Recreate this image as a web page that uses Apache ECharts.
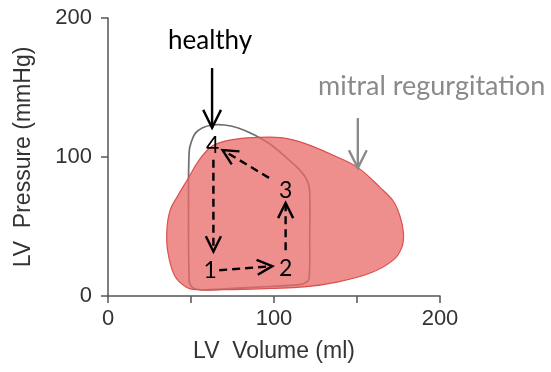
<!DOCTYPE html>
<html>
<head>
<meta charset="utf-8">
<script src="https://cdn.jsdelivr.net/npm/echarts@6/dist/echarts.min.js"></script>
<style>
  html, body { margin: 0; padding: 0; background: #fff; }
  #chart { width: 551px; height: 372px; }
</style>
</head>
<body>
<div id="chart"></div>
<script>
// Pressure-volume loops: healthy vs mitral regurgitation

// healthy loop outline (volume ml, pressure mmHg)
const healthyVol  = [49, 48.5, 49, 52, 57, 63, 70, 78, 88, 98, 108, 116, 120, 121.5, 121.5, 121, 117, 100, 75, 56, 51];
const healthyPres = [10, 60, 105, 116, 121, 123, 123, 121, 116, 109, 99, 90, 83, 75, 40, 12, 8.5, 7, 5.5, 4.5, 6];

// mitral regurgitation loop outline
const mrVol  = [47, 40, 36, 35.5, 37.5, 42, 48, 55, 63, 75, 88, 104, 118, 138, 151, 164, 172, 176, 178, 177, 172, 158, 138, 118, 98, 70, 53];
const mrPres = [6.5, 15, 32, 48, 62, 72, 84, 98, 108, 112.5, 114, 114, 110, 100, 92, 78, 68, 57, 45, 35, 26, 16.5, 10, 6.5, 5.5, 4.5, 4.5];

// cycle arrows 4->1, 1->2, 2->3, 3->4 (start / end)
const arrowFromVol  = [63.5, 67, 107, 97];
const arrowFromPres = [98, 18.5, 33, 85];
const arrowToVol    = [63.5, 99, 107, 69];
const arrowToPres   = [32, 21.5, 67, 105];

// phase numbers
const phaseLabels = ['1', '2', '3', '4'];
const phaseVol    = [61.5, 107, 107, 63];
const phasePres   = [18.5, 20, 76, 108];

// annotations
const annoText   = ['healthy', 'mitral regurgitation'];
const annoColor  = ['#000000', '#8a8a8a'];
const annoSize   = [26, 27];
const annoVol    = [61.5, 195];
const annoPres   = [184, 151];
const annoArrowVol      = [62.7, 150.5];
const annoArrowFromPres = [164, 128];
const annoArrowToPres   = [121, 92];

const chart = echarts.init(document.getElementById('chart'));

function arrowGroup(p0, p1, dashed, color, width, headLen) {
  const ang = Math.atan2(p1[1] - p0[1], p1[0] - p0[0]);
  const h = 0.46;
  const a1 = [p1[0] - headLen * Math.cos(ang - h), p1[1] - headLen * Math.sin(ang - h)];
  const a2 = [p1[0] - headLen * Math.cos(ang + h), p1[1] - headLen * Math.sin(ang + h)];
  return {
    type: 'group',
    children: [
      {
        type: 'line',
        shape: { x1: p0[0], y1: p0[1], x2: p1[0], y2: p1[1] },
        style: { stroke: color, lineWidth: width, lineDash: dashed ? [8, 5] : null }
      },
      {
        type: 'polyline',
        shape: { points: [a1, p1, a2] },
        style: { stroke: color, lineWidth: width, fill: null }
      }
    ]
  };
}

const option = {
  animation: false,
  grid: { left: 108, right: 111, top: 18, bottom: 76 },
  xAxis: {
    type: 'value',
    min: 0, max: 200, interval: 50,
    name: 'LV  Volume (ml)',
    nameLocation: 'middle',
    nameGap: 44,
    nameTextStyle: { fontFamily: 'Liberation Sans', fontSize: 23, color: '#333' },
    splitLine: { show: false },
    axisLine: { lineStyle: { color: '#555', width: 1.5 } },
    axisTick: { length: 7, lineStyle: { color: '#555', width: 1.5 } },
    axisLabel: {
      margin: 12,
      fontFamily: 'Liberation Sans', fontSize: 22, color: '#333',
      formatter: v => (v % 100 === 0 ? String(v) : '')
    }
  },
  yAxis: {
    type: 'value',
    min: 0, max: 200, interval: 100,
    name: 'LV  Pressure (mmHg)',
    nameLocation: 'middle',
    nameGap: 73,
    nameTextStyle: { fontFamily: 'Liberation Sans', fontSize: 23, color: '#333' },
    splitLine: { show: false },
    axisLine: { show: true, lineStyle: { color: '#555', width: 1.5 } },
    axisTick: { show: true, length: 7, lineStyle: { color: '#555', width: 1.5 } },
    axisLabel: { margin: 16, fontFamily: 'Liberation Sans', fontSize: 22, color: '#333' }
  },
  series: [
    {
      name: 'healthy',
      type: 'custom',
      z: 2,
      data: [[0, 0]],
      renderItem: function (params, api) {
        const pts = healthyVol.map((v, i) => api.coord([v, healthyPres[i]]));
        return {
          type: 'polygon',
          shape: { points: pts, smooth: 0.25 },
          style: { fill: null, stroke: '#6e6e6e', lineWidth: 1.7 }
        };
      }
    },
    {
      name: 'mitral regurgitation',
      type: 'custom',
      z: 3,
      data: [[0, 0]],
      renderItem: function (params, api) {
        const pts = mrVol.map((v, i) => api.coord([v, mrPres[i]]));
        return {
          type: 'polygon',
          shape: { points: pts, smooth: 0.35 },
          style: { fill: 'rgba(234, 108, 105, 0.76)', stroke: '#d9504f', lineWidth: 1.2 }
        };
      }
    },
    {
      name: 'cycle',
      type: 'custom',
      z: 5,
      data: arrowFromVol.map((v, i) => [v, arrowFromPres[i], arrowToVol[i], arrowToPres[i]]),
      renderItem: function (params, api) {
        const p0 = api.coord([api.value(0), api.value(1)]);
        const p1 = api.coord([api.value(2), api.value(3)]);
        return arrowGroup(p0, p1, true, '#000', 2.4, 17);
      }
    },
    {
      name: 'phases',
      type: 'custom',
      z: 6,
      data: phaseVol.map((v, i) => [v, phasePres[i]]),
      renderItem: function (params, api) {
        const p = api.coord([api.value(0), api.value(1)]);
        return {
          type: 'text',
          x: p[0], y: p[1],
          style: {
            text: phaseLabels[params.dataIndex],
            fontFamily: 'Lato', fontSize: 23, fill: '#000',
            align: 'center', verticalAlign: 'middle'
          }
        };
      }
    },
    {
      name: 'annotations',
      type: 'custom',
      z: 6,
      data: annoVol.map((v, i) => [v, annoPres[i], annoArrowVol[i], annoArrowFromPres[i], annoArrowToPres[i]]),
      renderItem: function (params, api) {
        const i = params.dataIndex;
        const p = api.coord([api.value(0), api.value(1)]);
        const a0 = api.coord([api.value(2), api.value(3)]);
        const a1 = api.coord([api.value(2), api.value(4)]);
        const arrow = arrowGroup(a0, a1, false, annoColor[i], 2.4, 20);
        return {
          type: 'group',
          children: [
            {
              type: 'text',
              x: p[0], y: p[1],
              style: {
                text: annoText[i],
                fontFamily: 'Lato', fontSize: annoSize[i], fill: annoColor[i],
                align: 'center', verticalAlign: 'middle'
              }
            },
            arrow
          ]
        };
      }
    }
  ]
};

chart.setOption(option);
window.addEventListener('resize', () => chart.resize());
</script>
</body>
</html>
